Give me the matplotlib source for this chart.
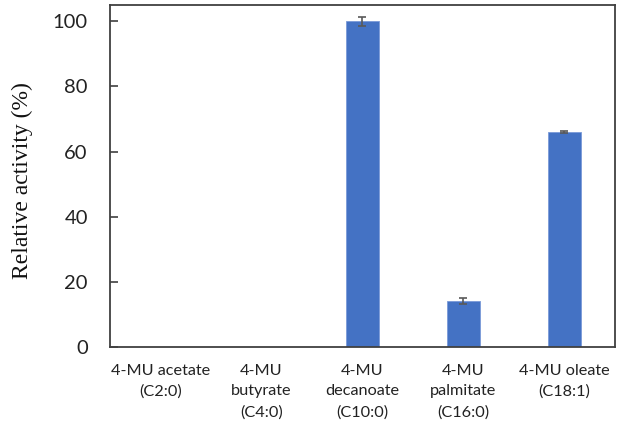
import numpy as np
import matplotlib.pyplot as plt

substrates = ["4-MU acetate\n(C2:0)", "4-MU\nbutyrate\n(C4:0)",
              "4-MU\ndecanoate\n(C10:0)", "4-MU\npalmitate\n(C16:0)",
              "4-MU oleate\n(C18:1)"]
activity = [0, 0, 100, 14.1, 66]
errors = [0, 0, 1.4, 0.8, 0.3]

fig = plt.figure(figsize=(6.18, 4.24), dpi=100)
ax = fig.add_axes([0.178, 0.1816, 0.817, 0.8064])

x = np.arange(len(substrates))
ax.bar(x, activity, width=0.32, color='#4472C4', edgecolor='#7a9ad8',
       linewidth=0.6, zorder=2)
# only draw error bars where there is a value
mask = [a > 0 for a in activity]
ax.errorbar(x[mask], np.array(activity)[mask], yerr=np.array(errors)[mask],
            fmt='none', ecolor='#595959', elinewidth=1.2, capsize=3,
            capthick=1.2, zorder=3)

ax.set_xlim(-0.5, len(substrates) - 0.5)
ax.set_ylim(0, 105)
ax.set_yticks([0, 20, 40, 60, 80, 100])

for s in ax.spines.values():
    s.set_color('#404040')
    s.set_linewidth(1.3)

ax.tick_params(axis='y', direction='in', length=6, width=1.2,
               color='#404040', labelsize=14.5, pad=16)
ax.tick_params(axis='x', length=0, labelsize=11.7, pad=12)
ax.set_xticks(x)
ax.set_xticklabels(substrates, fontfamily='Lato', color='#222222',
                   linespacing=1.6)
for lab in ax.get_yticklabels():
    lab.set_fontfamily('Lato')
    lab.set_color('#222222')

fig.text(22 / 618, 1 - 181 / 424, "Relative activity (%)", rotation=90,
         ha='center', va='center', fontfamily='Liberation Serif',
         fontsize=17, color='#111111')

fig.savefig("out.png", dpi=100)
